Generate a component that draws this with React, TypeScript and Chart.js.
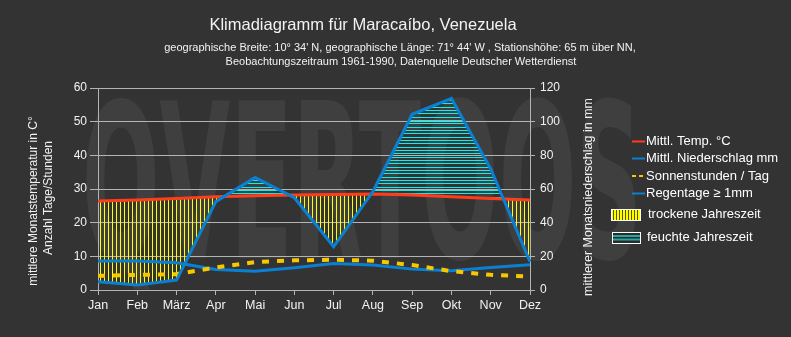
import React, { useEffect, useRef } from "react";
import { Chart, registerables } from "chart.js";

Chart.register(...registerables);

// ---- data ----
const months = ["Jan", "Feb", "März", "Apr", "Mai", "Jun", "Jul", "Aug", "Sep", "Okt", "Nov", "Dez"];
const temperature = [26.4, 26.7, 27.2, 27.7, 28.0, 28.2, 28.4, 28.5, 28.2, 27.7, 27.2, 26.7];
const precipitation = [4.9, 3.0, 5.9, 52.5, 66.9, 54.8, 25.7, 58.5, 104.4, 113.9, 72.0, 16.8];
const sunHours = [4.2, 4.5, 4.7, 6.7, 8.3, 8.8, 9.0, 8.7, 7.4, 5.6, 4.5, 4.0];
const rainDays = [8.6, 8.6, 8.1, 6.1, 5.6, 6.6, 7.9, 7.4, 6.2, 5.7, 6.7, 7.5];

const leftAxisMax = 60;
const leftAxisStep = 10;
const rightAxisMax = 120;
const rightAxisStep = 20;

const titleText = "Klimadiagramm für Maracaíbo, Venezuela";
const subtitleLines = [
  "geographische Breite: 10° 34' N, geographische Länge: 71° 44' W , Stationshöhe: 65 m über NN,",
  "Beobachtungszeitraum 1961-1990, Datenquelle Deutscher Wetterdienst",
];
const leftAxisTitle = ["mittlere Monatstemperatur in C°", "Anzahl Tage/Stunden"];
const rightAxisTitle = "mittlerer Monatsniederschlag in mm";
const legendLabels = [
  "Mittl. Temp. °C",
  "Mittl. Niederschlag mm",
  "Sonnenstunden / Tag",
  "Regentage ≥ 1mm",
  "trockene Jahreszeit",
  "feuchte Jahreszeit",
];
const watermarkText = "QVERTOOS";

const FONT = '"Liberation Sans", Arial, sans-serif';
const BG = "#333333";
const GRID = "#b4b4b4";
const TEXT = "#f2f2f2";
const RED = "#ff3d1c";
const BLUE = "#0a80d2";
const SUN = "#f7c800";
const DRY = "#ffff00";
const WET = "#00f4f4";

function makeDryPattern(ctx: CanvasRenderingContext2D) {
  const c = document.createElement("canvas");
  c.width = 4;
  c.height = 1;
  const g = c.getContext("2d")!;
  g.fillStyle = DRY;
  g.fillRect(0, 0, 1, 1);
  return ctx.createPattern(c, "repeat")!;
}

function makeWetPattern(ctx: CanvasRenderingContext2D) {
  const c = document.createElement("canvas");
  c.width = 1;
  c.height = 10;
  const g = c.getContext("2d")!;
  g.fillStyle = WET;
  g.fillRect(0, 0, 1, 1);
  g.fillRect(0, 3, 1, 1);
  g.fillRect(0, 7, 1, 1);
  return ctx.createPattern(c, "repeat")!;
}

const backgroundPlugin = {
  id: "bgWatermark",
  beforeDraw(chart: any) {
    const ctx = chart.ctx as CanvasRenderingContext2D;
    ctx.save();
    ctx.fillStyle = BG;
    ctx.fillRect(0, 0, chart.width, chart.height);
    // watermark
    ctx.font = "bold 215px 'DejaVu Sans', sans-serif";
    const w = ctx.measureText(watermarkText).width;
    const targetW = 560;
    ctx.translate(82, 258);
    ctx.scale(targetW / w, 1);
    ctx.fillStyle = "rgba(255,255,255,0.06)";
    ctx.textBaseline = "alphabetic";
    ctx.fillText(watermarkText, 0, 0);
    ctx.restore();
  },
};

const annotationPlugin = {
  id: "texts",
  afterDraw(chart: any) {
    const ctx = chart.ctx as CanvasRenderingContext2D;
    ctx.save();
    ctx.fillStyle = TEXT;
    ctx.textBaseline = "middle";
    ctx.textAlign = "center";
    ctx.font = `16.5px ${FONT}`;
    ctx.fillText(titleText, 363, 25);
    ctx.font = `11px ${FONT}`;
    ctx.fillText(subtitleLines[0], 400, 48);
    ctx.fillText(subtitleLines[1], 401, 62);

    // axis titles
    ctx.font = `12px ${FONT}`;
    ctx.save();
    ctx.translate(34, 201);
    ctx.rotate(-Math.PI / 2);
    ctx.fillText(leftAxisTitle[0], 0, 0);
    ctx.restore();
    ctx.save();
    ctx.translate(49, 198);
    ctx.rotate(-Math.PI / 2);
    ctx.fillText(leftAxisTitle[1], 0, 0);
    ctx.restore();
    ctx.font = `12.5px ${FONT}`;
    ctx.save();
    ctx.translate(589, 197);
    ctx.rotate(-Math.PI / 2);
    ctx.fillText(rightAxisTitle, 0, 0);
    ctx.restore();

    // legend
    ctx.textAlign = "left";
    ctx.font = `13px ${FONT}`;
    const lineItems = [
      { color: RED, dash: [] as number[], y: 141.5 },
      { color: BLUE, dash: [] as number[], y: 158.5 },
      { color: SUN, dash: [4, 3], y: 176 },
      { color: BLUE, dash: [] as number[], y: 193.5 },
    ];
    lineItems.forEach((it, i) => {
      ctx.save();
      ctx.strokeStyle = it.color;
      ctx.lineWidth = 2;
      ctx.setLineDash(it.dash);
      ctx.beginPath();
      ctx.moveTo(632, it.y);
      ctx.lineTo(645, it.y);
      ctx.stroke();
      ctx.restore();
      ctx.fillStyle = "#ffffff";
      ctx.fillText(legendLabels[i], 646, it.y);
    });
    // dry box
    ctx.fillStyle = DRY;
    ctx.fillRect(611, 209, 30, 11);
    ctx.fillStyle = "#555500";
    for (let x = 613; x < 641; x += 3) ctx.fillRect(x, 209, 1, 11);
    ctx.strokeStyle = "#ffffff";
    ctx.lineWidth = 1;
    ctx.strokeRect(611.5, 209.5, 29, 11);
    ctx.fillStyle = "#ffffff";
    ctx.fillText(legendLabels[4], 648, 214.5);
    // wet box
    ctx.fillStyle = "#2b2b2b";
    ctx.fillRect(612, 232, 29, 11);
    ctx.fillStyle = "#2aa7a0";
    ctx.fillRect(613, 235, 27, 2);
    ctx.fillRect(613, 238.5, 27, 2);
    ctx.strokeStyle = "#ffffff";
    ctx.strokeRect(612.5, 232.5, 28, 11);
    ctx.fillStyle = "#ffffff";
    ctx.fillText(legendLabels[5], 647, 237);
    ctx.restore();
  },
};

export default function App() {
  const ref = useRef<HTMLCanvasElement>(null);
  useEffect(() => {
    const canvas = ref.current!;
    const ctx = canvas.getContext("2d")!;
    const dryPattern = makeDryPattern(ctx);
    const wetPattern = makeWetPattern(ctx);
    const chart = new Chart(ctx, {
      type: "line",
      data: {
        labels: months,
        datasets: [
          {
            label: legendLabels[1],
            data: precipitation,
            yAxisID: "y1",
            borderColor: BLUE,
            borderWidth: 3,
            backgroundColor: "transparent",
            pointRadius: 0,
            tension: 0,
            fill: { target: 1, above: wetPattern, below: dryPattern } as any,
          },
          {
            label: legendLabels[0],
            data: temperature,
            yAxisID: "y",
            borderColor: RED,
            borderWidth: 3,
            pointRadius: 0,
            tension: 0,
            fill: false,
          },
          {
            label: legendLabels[2],
            data: sunHours,
            yAxisID: "y",
            borderColor: SUN,
            borderWidth: 4,
            borderDash: [7, 8],
            pointRadius: 0,
            tension: 0,
            fill: false,
          },
          {
            label: legendLabels[3],
            data: rainDays,
            yAxisID: "y",
            borderColor: BLUE,
            borderWidth: 3,
            pointRadius: 0,
            tension: 0,
            fill: false,
          },
        ],
      },
      options: {
        responsive: false,
        animation: false,
        devicePixelRatio: 1,
        layout: { padding: { top: 88, right: 201, bottom: 0, left: 0 } },
        plugins: {
          legend: { display: false },
          title: { display: false },
          tooltip: { enabled: false },
          filler: { drawTime: "beforeDatasetsDraw" } as any,
        },
        scales: {
          x: {
            offset: false,
            grid: { drawOnChartArea: false, color: GRID, tickLength: 5 },
            border: { color: GRID },
            ticks: {
              color: TEXT,
              font: { family: FONT, size: 12.5 },
              padding: 3,
              maxRotation: 0,
              autoSkip: false,
            },
            afterFit: (s: any) => {
              s.height = 47;
            },
          },
          y: {
            position: "left",
            min: 0,
            max: leftAxisMax,
            grid: { color: GRID, tickLength: 8 },
            border: { color: GRID },
            ticks: {
              stepSize: leftAxisStep,
              color: TEXT,
              font: { family: FONT, size: 12 },
              padding: 3,
            },
            afterFit: (s: any) => {
              s.width = 98;
            },
          },
          y1: {
            position: "right",
            min: 0,
            max: rightAxisMax,
            grid: { drawOnChartArea: false, color: GRID, tickLength: 5 },
            border: { color: GRID },
            ticks: {
              stepSize: rightAxisStep,
              color: TEXT,
              font: { family: FONT, size: 12 },
              padding: 5,
            },
            afterFit: (s: any) => {
              s.width = 60;
            },
          },
        },
      },
      plugins: [backgroundPlugin, annotationPlugin],
    });
    return () => chart.destroy();
  }, []);
  return (
    <div style={{ position: "absolute", left: 0, top: 0, width: 791, height: 337, background: BG }}>
      <canvas ref={ref} width={791} height={337} style={{ display: "block", width: 791, height: 337 }} />
    </div>
  );
}
